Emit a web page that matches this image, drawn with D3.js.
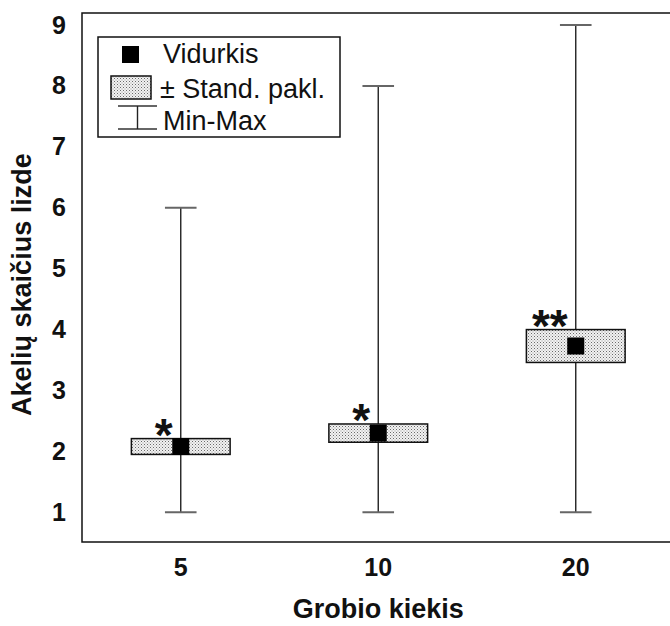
<!DOCTYPE html>
<html>
<head>
<meta charset="utf-8">
<script src="https://cdn.jsdelivr.net/npm/d3@7"></script>
<style>
  html, body { margin: 0; padding: 0; background: #fff; }
  svg { display: block; font-family: "Liberation Sans", Arial, sans-serif; }
</style>
</head>
<body>
<svg id="chart" width="670" height="626"></svg>
<script>
// Nest counts by prey amount: mean, standard deviation and range
const categories = ["5", "10", "20"];
const means = [2.08, 2.30, 3.73];
const sds = [0.13, 0.15, 0.27];
const mins = [1, 1, 1];
const maxs = [6, 8, 9];
const marks = ["*", "*", "**"];
const yTicks = [1, 2, 3, 4, 5, 6, 7, 8, 9];
const legendLabels = ["Vidurkis", "± Stand. pakl.", "Min-Max"];

const svg = d3.select("#chart");
const frame = { left: 82, top: 13, bottom: 542, right: 700 };

const x = d3.scaleBand().domain(categories).range([82, 674.5]).padding(0);
const y = d3.scaleLinear().domain([1, 9]).range([512.3, 25]);

// stipple fill for the ±SD boxes
const defs = svg.append("defs");
const pat = defs.append("pattern")
  .attr("id", "dots").attr("patternUnits", "userSpaceOnUse")
  .attr("width", 3).attr("height", 3);
pat.append("rect").attr("width", 3).attr("height", 3).attr("fill", "#f2f2f2");
pat.append("rect").attr("x", 0).attr("y", 0).attr("width", 1).attr("height", 1).attr("fill", "#6a6a6a");
pat.append("rect").attr("x", 1.5).attr("y", 1.5).attr("width", 1).attr("height", 1).attr("fill", "#999");

// plot frame (open on the right)
svg.append("path")
  .attr("d", `M${frame.right},${frame.top}H${frame.left}V${frame.bottom}H${frame.right}`)
  .attr("fill", "none").attr("stroke", "#111").attr("stroke-width", 1.5);

// y axis labels
const yAxis = d3.axisLeft(y).tickValues(yTicks).tickSize(0).tickPadding(16)
  .tickFormat(d3.format("d"));
svg.append("g").attr("transform", `translate(${frame.left},0)`).call(yAxis)
  .call(g => g.select(".domain").remove())
  .selectAll("text")
  .attr("font-family", "Liberation Sans, Arial, sans-serif")
  .attr("font-size", 25).attr("font-weight", "bold").attr("fill", "#111");

// x axis labels
const xAxis = d3.axisBottom(x).tickSize(0).tickPadding(16);
svg.append("g").attr("transform", `translate(0,${frame.bottom})`).call(xAxis)
  .call(g => g.select(".domain").remove())
  .selectAll("text")
  .attr("font-family", "Liberation Sans, Arial, sans-serif")
  .attr("font-size", 25).attr("font-weight", "bold").attr("fill", "#111");

// axis titles
svg.append("text")
  .attr("x", x("10") + x.bandwidth() / 2).attr("y", 618)
  .attr("text-anchor", "middle").attr("font-size", 27).attr("font-weight", "bold")
  .attr("fill", "#111").text("Grobio kiekis");
svg.append("text")
  .attr("transform", `translate(31,${(y(1) + y(9)) / 2 + 16}) rotate(-90)`)
  .attr("text-anchor", "middle").attr("font-size", 27).attr("font-weight", "bold")
  .attr("fill", "#111").text("Akelių skaičius lizde");

const data = categories.map((c, i) => ({
  c, mean: means[i], sd: sds[i], min: mins[i], max: maxs[i], mark: marks[i]
}));
const cx = d => x(d.c) + x.bandwidth() / 2;
const boxW = x.bandwidth() * 0.5;
const capW = x.bandwidth() * 0.16;
const sq = 17;

const g = svg.append("g");
// whiskers
g.selectAll(".whisker").data(data).join("line")
  .attr("x1", cx).attr("x2", cx)
  .attr("y1", d => y(d.min)).attr("y2", d => y(d.max))
  .attr("stroke", "#222").attr("stroke-width", 1.4);
g.selectAll(".capTop").data(data).join("line")
  .attr("x1", d => cx(d) - capW / 2).attr("x2", d => cx(d) + capW / 2)
  .attr("y1", d => y(d.max)).attr("y2", d => y(d.max))
  .attr("stroke", "#666").attr("stroke-width", 2);
g.selectAll(".capBot").data(data).join("line")
  .attr("x1", d => cx(d) - capW / 2).attr("x2", d => cx(d) + capW / 2)
  .attr("y1", d => y(d.min)).attr("y2", d => y(d.min))
  .attr("stroke", "#666").attr("stroke-width", 2);
// ±SD boxes
g.selectAll(".sd").data(data).join("rect")
  .attr("x", d => cx(d) - boxW / 2).attr("width", boxW)
  .attr("y", d => y(d.mean + d.sd)).attr("height", d => y(d.mean - d.sd) - y(d.mean + d.sd))
  .attr("fill", "url(#dots)").attr("stroke", "#111").attr("stroke-width", 1.5);
// means
g.selectAll(".mean").data(data).join("rect")
  .attr("x", d => cx(d) - sq / 2).attr("y", d => y(d.mean) - sq / 2)
  .attr("width", sq).attr("height", sq).attr("fill", "#000");
// significance marks
g.selectAll(".mark").data(data).join("text")
  .attr("x", d => cx(d) - 8).attr("y", d => y(d.mean + d.sd) + 12)
  .attr("text-anchor", "end").attr("font-size", 46).attr("font-weight", "bold")
  .attr("fill", "#111").text(d => d.mark);

// legend
const lg = svg.append("g");
lg.append("rect").attr("x", 98).attr("y", 37).attr("width", 242).attr("height", 100)
  .attr("fill", "#fff").attr("stroke", "#111").attr("stroke-width", 1.5);
lg.append("rect").attr("x", 122).attr("y", 46).attr("width", 17).attr("height", 17).attr("fill", "#000");
lg.append("rect").attr("x", 111).attr("y", 76).attr("width", 40).attr("height", 23)
  .attr("fill", "url(#dots)").attr("stroke", "#111").attr("stroke-width", 1.5);
lg.append("path").attr("d", "M118,106H157M118,129H157")
  .attr("stroke", "#666").attr("stroke-width", 2).attr("fill", "none");
lg.append("line").attr("x1", 137.5).attr("x2", 137.5).attr("y1", 106).attr("y2", 129)
  .attr("stroke", "#222").attr("stroke-width", 1.4);
lg.selectAll(".lt").data(legendLabels).join("text")
  .attr("x", (d, i) => i === 1 ? 160 : 163)
  .attr("y", (d, i) => [63, 98, 130][i])
  .attr("font-size", 27).attr("fill", "#111").text(d => d);
</script>
</body>
</html>
